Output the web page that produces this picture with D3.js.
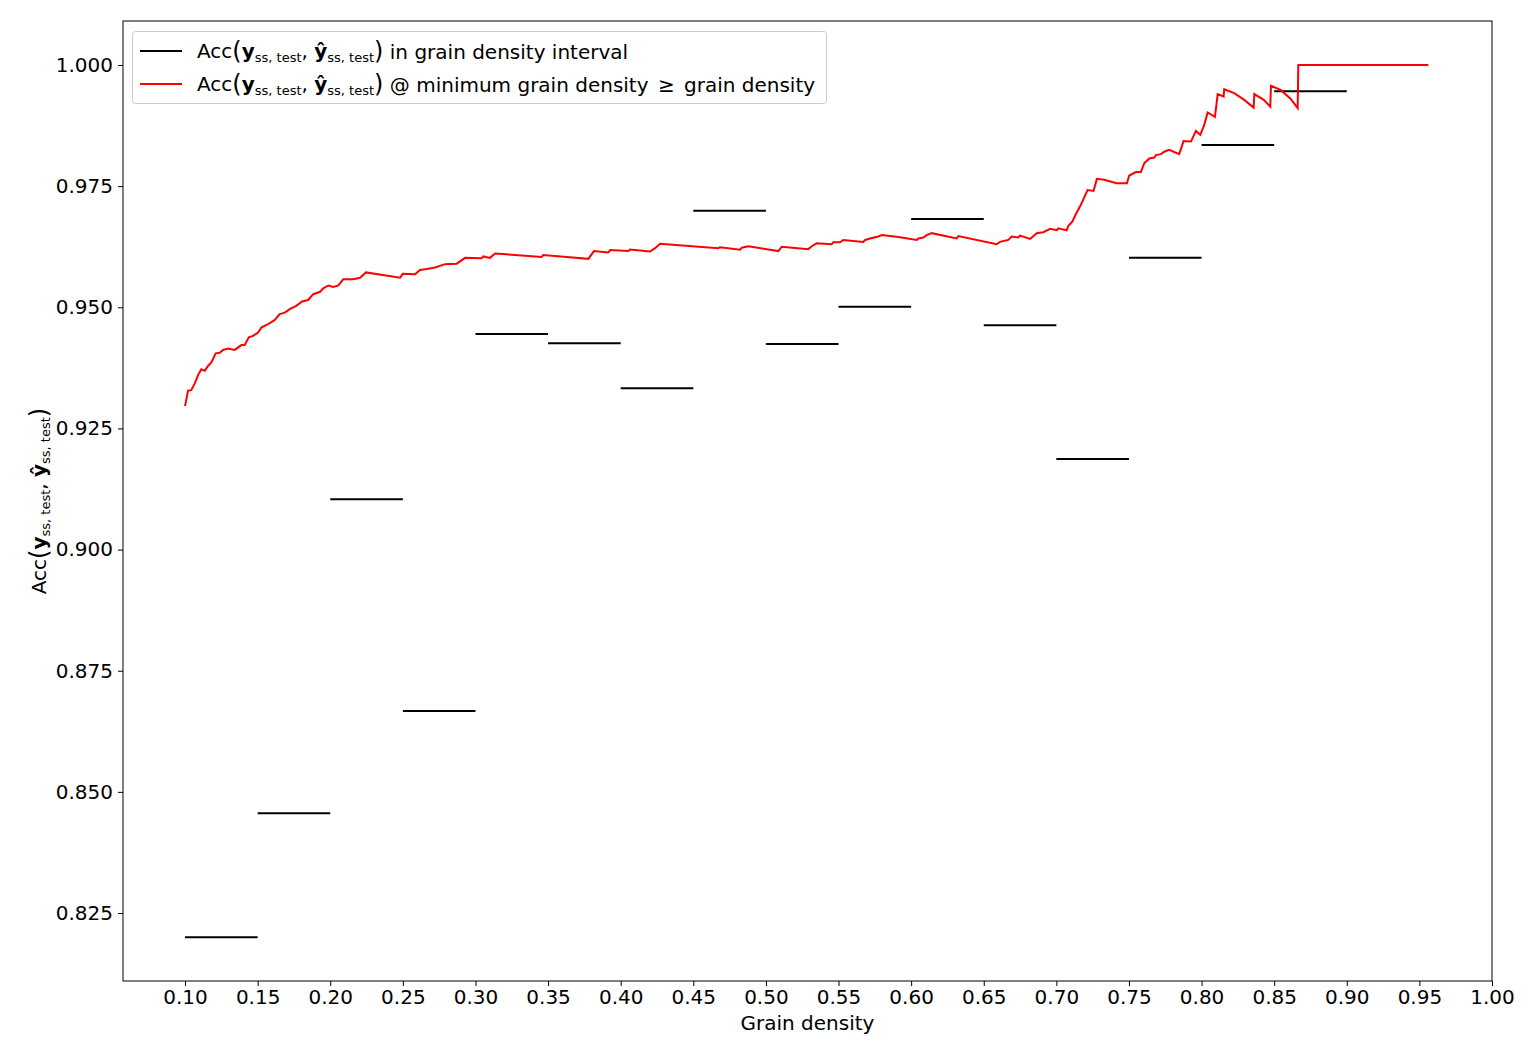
<!DOCTYPE html>
<html>
<head>
<meta charset="utf-8">
<script src="https://cdn.jsdelivr.net/npm/d3@7"></script>
<style>
  html, body { margin: 0; padding: 0; background: #fff; }
  svg text { font-family: "DejaVu Sans", sans-serif; white-space: pre; }
</style>
</head>
<body>
<svg id="chart" width="1536" height="1056"></svg>
<script>
// ---- data ----
const binStart = [0.10, 0.15, 0.20, 0.25, 0.30, 0.35, 0.40, 0.45, 0.50, 0.55, 0.60, 0.65, 0.70, 0.75, 0.80, 0.85];
const binEnd   = [0.15, 0.20, 0.25, 0.30, 0.35, 0.40, 0.45, 0.50, 0.55, 0.60, 0.65, 0.70, 0.75, 0.80, 0.85, 0.90];
const binAcc   = [0.8200, 0.8456, 0.9104, 0.8667, 0.9445, 0.9426, 0.9333, 0.9699, 0.9424, 0.9501, 0.9682, 0.9463, 0.9187, 0.9602, 0.9835, 0.9946];

const minDensity = [0.1000,0.1021,0.1043,0.1067,0.1090,0.1112,0.1136,0.1158,0.1181,0.1211,0.1239,0.1262,0.1296,0.1342,0.1388,0.1411,0.1439,0.1468,0.1503,0.1525,0.1572,0.1618,0.1652,0.1687,0.1721,0.1766,0.1806,0.1847,0.1883,0.1930,0.1952,0.1987,0.2021,0.2056,0.2090,0.2159,0.2205,0.2246,0.2481,0.2499,0.2584,0.2618,0.2664,0.2722,0.2790,0.2871,0.2928,0.3043,0.3054,0.3100,0.3135,0.3456,0.3467,0.3628,0.3777,0.3816,0.3915,0.3927,0.4053,0.4064,0.4202,0.4237,0.4271,0.4672,0.4684,0.4822,0.4834,0.4879,0.5086,0.5109,0.5292,0.5316,0.5350,0.5453,0.5464,0.5510,0.5533,0.5671,0.5683,0.5717,0.5774,0.5798,0.5912,0.6039,0.6050,0.6084,0.6107,0.6142,0.6314,0.6325,0.6589,0.6612,0.6669,0.6693,0.6738,0.6750,0.6819,0.6865,0.6910,0.6957,0.7003,0.7014,0.7071,0.7083,0.7111,0.7134,0.7168,0.7215,0.7256,0.7279,0.7329,0.7416,0.7486,0.7502,0.7548,0.7582,0.7605,0.7640,0.7674,0.7686,0.7720,0.7743,0.7777,0.7846,0.7876,0.7927,0.7961,0.7991,0.8018,0.8042,0.8092,0.8111,0.8152,0.8156,0.8225,0.8294,0.8359,0.8363,0.8428,0.8473,0.8478,0.8547,0.8611,0.8662,0.8666,0.9562];
const cumAcc = [0.9296,0.9328,0.9329,0.9343,0.9360,0.9372,0.9369,0.9379,0.9386,0.9405,0.9406,0.9412,0.9415,0.9412,0.9422,0.9422,0.9438,0.9441,0.9448,0.9458,0.9465,0.9474,0.9486,0.9489,0.9496,0.9503,0.9512,0.9515,0.9527,0.9532,0.9539,0.9545,0.9542,0.9545,0.9558,0.9558,0.9561,0.9572,0.9561,0.9569,0.9568,0.9577,0.9579,0.9582,0.9589,0.9590,0.9602,0.9601,0.9605,0.9602,0.9611,0.9604,0.9608,0.9604,0.9600,0.9616,0.9613,0.9618,0.9616,0.9619,0.9615,0.9622,0.9631,0.9622,0.9624,0.9619,0.9623,0.9626,0.9616,0.9625,0.9620,0.9626,0.9632,0.9630,0.9634,0.9634,0.9639,0.9635,0.9639,0.9642,0.9646,0.9649,0.9645,0.9639,0.9642,0.9644,0.9649,0.9653,0.9642,0.9647,0.9630,0.9635,0.9639,0.9646,0.9644,0.9648,0.9641,0.9653,0.9655,0.9662,0.9659,0.9663,0.9659,0.9668,0.9677,0.9692,0.9711,0.9742,0.9740,0.9765,0.9763,0.9756,0.9756,0.9772,0.9779,0.9779,0.9797,0.9807,0.9809,0.9814,0.9816,0.9821,0.9825,0.9816,0.9843,0.9842,0.9864,0.9856,0.9876,0.9902,0.9893,0.9940,0.9935,0.9950,0.9942,0.9928,0.9912,0.9940,0.9928,0.9914,0.9957,0.9948,0.9931,0.9911,1.0000,1.0000];

const xTicks = [0.10,0.15,0.20,0.25,0.30,0.35,0.40,0.45,0.50,0.55,0.60,0.65,0.70,0.75,0.80,0.85,0.90,0.95,1.00];
const yTicks = [0.825,0.850,0.875,0.900,0.925,0.950,0.975,1.000];

// ---- layout ----
const svg = d3.select("#chart");
const L = 123, R = 1492, T = 21, B = 981;
const x = d3.scaleLinear().domain([0.05728, 1.0]).range([L, R]);
const y = d3.scaleLinear().domain([0.81097, 1.00908]).range([B, T]);

const FS = 20;

// axes
const xAxis = svg.append("g").attr("transform", `translate(0,${B})`)
  .call(d3.axisBottom(x).tickValues(xTicks).tickFormat(d3.format(".2f")).tickSize(5).tickPadding(4));
const yAxis = svg.append("g").attr("transform", `translate(${L},0)`)
  .call(d3.axisLeft(y).tickValues(yTicks).tickFormat(d3.format(".3f")).tickSize(5).tickPadding(5));
[xAxis, yAxis].forEach(g => {
  g.select(".domain").remove();
  g.selectAll("line").attr("stroke", "#000").attr("stroke-width", 1);
  g.selectAll("text").attr("font-size", FS).attr("fill", "#000").attr("font-family", "DejaVu Sans");
});

// black bin segments
const bins = binStart.map((s, i) => ({s, e: binEnd[i], a: binAcc[i]}));
svg.append("g").selectAll("line").data(bins).join("line")
  .attr("x1", d => x(d.s)).attr("x2", d => x(d.e))
  .attr("y1", d => y(d.a)).attr("y2", d => y(d.a))
  .attr("stroke", "#000").attr("stroke-width", 2);

// red cumulative line
const pts = minDensity.map((v, i) => [v, cumAcc[i]]);
svg.append("path").datum(pts)
  .attr("fill", "none").attr("stroke", "#ff0000").attr("stroke-width", 2)
  .attr("stroke-linejoin", "miter")
  .attr("d", d3.line().x(d => x(d[0])).y(d => y(d[1])));

// frame
svg.append("rect").attr("x", L).attr("y", T).attr("width", R - L).attr("height", B - T)
  .attr("fill", "none").attr("stroke", "#000").attr("stroke-width", 1);

// axis labels
svg.append("text").attr("x", (L + R) / 2).attr("y", 1030).attr("text-anchor", "middle")
  .attr("font-size", FS).text("Grain density");

function accLabel(sel, fs) {
  const sub = 13, sd = 4;
  sel.append("tspan").text("Acc");
  sel.append("tspan").attr("font-size", fs * 1.2).attr("dy", 1).text("(");
  sel.append("tspan").attr("font-weight", "bold").attr("font-size", fs).attr("dy", -1).text("y");
  sel.append("tspan").attr("font-size", sub).attr("dy", sd).text("ss, test");
  sel.append("tspan").attr("font-size", fs).attr("dy", -sd).text(", ");
  sel.append("tspan").attr("font-weight", "bold").text("ŷ");
  sel.append("tspan").attr("font-size", sub).attr("dy", sd).text("ss, test");
  sel.append("tspan").attr("font-size", fs * 1.2).attr("dy", -sd + 1).text(")");
  sel.append("tspan").attr("font-size", fs).attr("dy", -1).text("");
}

const yl = svg.append("text").attr("transform", "translate(46,501) rotate(-90)")
  .attr("text-anchor", "middle").attr("font-size", FS);
accLabel(yl, FS);

// legend
const lg = svg.append("g");
lg.append("rect").attr("x", 132.5).attr("y", 31.5).attr("width", 694).attr("height", 72)
  .attr("rx", 3).attr("fill", "#fff").attr("fill-opacity", 0.8).attr("stroke", "#cccccc");
const items = [
  {color: "#000", parts: [" in grain density interval"], y: 51},
  {color: "#ff0000", parts: [" @ minimum grain density ", "\u2265", " grain density"], y: 84}
];
items.forEach(it => {
  lg.append("line").attr("x1", 140).attr("x2", 182).attr("y1", it.y).attr("y2", it.y)
    .attr("stroke", it.color).attr("stroke-width", 2);
  const t = lg.append("text").attr("x", 197).attr("y", it.y + 7).attr("font-size", FS);
  accLabel(t, FS);
  it.parts.forEach((p, i) => {
    t.append("tspan").attr("dx", i > 0 ? 3 : 0).text(p);
  });
});
</script>
</body>
</html>
